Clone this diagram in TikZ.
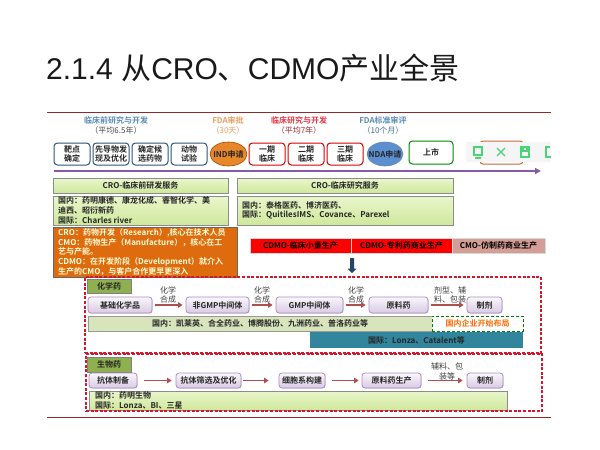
\documentclass[tikz,border=0pt]{standalone}
\usepackage{fontspec}
\setmainfont{Liberation Sans}
\newfontfamily\cjk{Noto Sans CJK SC}
\newfontfamily\cjkb{Noto Sans CJK SC Bold}
\usetikzlibrary{arrows.meta,shapes.geometric,shapes.arrows,shadows}
\definecolor{darkred}{HTML}{8E2A2E}
\definecolor{hblue}{HTML}{5B8DB5}
\definecolor{horange}{HTML}{E9A060}
\definecolor{hred}{HTML}{E33A48}
\definecolor{htxt}{HTML}{4A4A4A}
\definecolor{navy}{HTML}{2F5482}
\definecolor{arrowred}{HTML}{B0504C}
\definecolor{dashred}{HTML}{D5152B}
\definecolor{pur}{HTML}{8A5AA8}
\definecolor{limetop}{HTML}{EAF6CC}
\definecolor{limebot}{HTML}{CFE89C}
\definecolor{tealbar}{HTML}{31859C}
\definecolor{tagfill}{HTML}{8FB04F}
\definecolor{palegreen}{HTML}{D7E4BC}
\definecolor{orangefill}{HTML}{DE6C0E}
\definecolor{indfill}{HTML}{E8862A}
\definecolor{ndafill}{HTML}{5B8FD0}
\definecolor{pinkbar}{HTML}{D49E96}
\newcommand{\bx}[7]{%
  \pgfmathsetmacro{\cxx}{(#3+#5)/2}\pgfmathsetmacro{\cyy}{(#4+#6)/2}%
  \pgfmathsetmacro{\wdd}{#5-#3}\pgfmathsetmacro{\htt}{#6-#4}%
  \node[#2,minimum width=\wdd pt,minimum height=\htt pt,inner sep=0pt] (#1) at (\cxx,\cyy) {#7};}
\tikzset{
  lab/.style={font=\cjkb\fontsize{8}{9.7}\selectfont,text=black!85,align=center},
  stage/.style={lab,draw=navy,line width=1pt,rounded corners=3.5pt,fill=white},
  stagered/.style={lab,draw=red!85!black,line width=1pt,rounded corners=3.5pt,fill=white},
  stagegreen/.style={lab,draw=green!55!black,line width=1pt,rounded corners=3.5pt,fill=white},
  ovalbox/.style={lab,ellipse,line width=.6pt},
  greenbox/.style={lab,draw=black!45,line width=1pt,top color=limetop,bottom color=limebot},
  orangebox/.style={draw=black!60,line width=.8pt,fill=orangefill},
  barbox/.style={lab,text=black,draw=black!15,line width=.4pt},
  proc/.style={lab,draw=pur!70,line width=.8pt,rounded corners=3pt,top color=pur!5,bottom color=pur!32,drop shadow={shadow xshift=.6pt,shadow yshift=-.6pt,fill=black!35,opacity=.5}},
  reddash/.style={draw=dashred,line width=1.1pt,dash pattern=on 3pt off 1.6pt},
  tag/.style={lab,draw=black!50,line width=.6pt,fill=tagfill},
  link/.style={draw=arrowred,line width=1.2pt,-{Triangle[length=4.5pt,width=5.5pt]},shorten >=3pt,shorten <=2.5pt},
  hd/.style={font=\cjkb\fontsize{8}{9.7}\selectfont,align=center},
  hdsub/.style={font=\cjk\fontsize{8}{9.7}\selectfont,align=center,text=htxt},
  small/.style={font=\cjk\fontsize{8}{9.2}\selectfont,align=center,text=black!75},
  icon/.style={draw=green!50!teal!70,line width=1.1pt},
}
\begin{document}
\begin{tikzpicture}[x=1pt,y=-1pt]
\useasboundingbox (0,0) rectangle (600,450);
\fill[white] (0,0) rectangle (600,450);
% title
\node[anchor=base west,inner sep=0pt,font=\fontsize{30}{34}\selectfont,text=black!90] (title) at (46,79) {2.1.4 {\cjk 从}CRO{\cjk 、}CDMO{\cjk 产业全景}};
% rules
\coordinate (tl) at (47,112.5); \coordinate (tr) at (551,112.5);
\coordinate (bl) at (47,417); \coordinate (br) at (551,417);
\draw[darkred,line width=1pt] (tl) -- (tr);
\draw[darkred,line width=1pt] (bl) -- (br);
% header labels
\node[hd,text=hblue] (h1) at (116,120) {临床前研究与开发};
\node[hdsub] (h1s) at (116,130) {（平均6.5年）};
\node[hd,text=horange] (h2) at (228,120) {FDA审批};
\node[hdsub,text=horange] (h2s) at (228,130) {（30天）};
\node[hd,text=hred] (h3) at (299,120) {临床研究与开发};
\node[hdsub,text=hred!70!black] (h3s) at (299,130) {（平均7年）};
\node[hd,text=hblue] (h4) at (383,120) {FDA标准审评};
\node[hdsub,text=hblue!80!black] (h4s) at (383,130) {（10个月）};
% stages
\bx{s1}{stage}{54}{143}{90}{165}{靶点\\确定}
\bx{s2}{stage}{93}{143}{129}{165}{先导物发\\现及优化}
\bx{s3}{stage}{132}{143}{168}{165}{确定候\\选药物}
\bx{s4}{stage}{171}{143}{207}{165}{动物\\试验}
\bx{ind}{ovalbox,fill=indfill,draw=orange!60!black}{210}{142}{247}{166}{}
\node[lab,inner sep=0pt] (indt) at (ind) {IND申请};
\bx{s5}{stagered}{249}{143}{285}{165}{一期\\临床}
\bx{s6}{stagered}{288}{143}{324}{165}{二期\\临床}
\bx{s7}{stagered}{327}{143}{363}{165}{三期\\临床}
\bx{nda}{ovalbox,fill=ndafill,draw=navy!70}{367}{142}{403}{166}{}
\node[lab,inner sep=0pt] (ndat) at (nda) {NDA申请};
\bx{s8}{stagegreen}{409}{141}{453}{164}{上市}
% toolbar
\draw[draw=brown!80!red,line width=1pt,rounded corners=3pt] (480,141) rectangle (523,164);
\fill[black!4] (466,142) rectangle (551,162);
\draw[icon] (474,147) rectangle (482,155) (475,158) -- (481,158);
\draw[icon] (497,148) -- (505,156) (505,148) -- (497,156);
\draw[icon] (521,147) rectangle (529,157) (523,147) -- (523,151) -- (527,151) -- (527,147);
\draw[icon] (550,147) -- (546,147) -- (546,157) -- (551,157);
% timeline
\coordinate (tlA) at (54,171); \coordinate (tlB) at (541,171);
\draw[pur,line width=1.5pt,-{Triangle[length=6pt,width=6pt]}] (tlA) -- (tlB);
% CRO panels
\bx{c1}{greenbox}{53}{178}{228}{193}{CRO-临床前研发服务}
\bx{c2}{greenbox}{237}{178}{453}{193}{CRO-临床研究服务}
\bx{d1}{greenbox}{53}{196}{228}{225}{}
\node[lab,anchor=west,align=left,inner sep=0pt] (d1t) at (58,210.5) {国内：药明康德、康龙化成、睿智化学、美\\迪西、昭衍新药\\国际：Charles river};
\bx{d2}{greenbox}{237}{196}{453}{225}{}
\node[lab,anchor=west,align=left,inner sep=0pt] (d2t) at (242,210.5) {国内：泰格医药、博济医药、\\国际：QuitilesIMS、Covance、Parexel};
% orange
\bx{o1}{orangebox}{53}{227}{237}{277}{}
\node[lab,anchor=west,align=left,text=yellow!15,inner sep=0pt] (o1t) at (58,252) {CRO：药物开发（Research）,核心在技术人员\\CMO：药物生产（Manufacture），核心在工\\艺与产能。\\CDMO：在开发阶段（Development）就介入\\生产的CMO，与客户合作更早更深入};
% CDMO bars
\bx{b1}{barbox,fill=red}{250}{238}{351}{253}{CDMO-临床小量生产}
\bx{b2}{barbox,fill=red}{351}{238}{452}{253}{CDMO-专利药商业生产}
\bx{b3}{barbox,fill=pinkbar}{452}{238}{545}{253}{CMO-仿制药商业生产}
\node[single arrow,draw=none,fill=navy!80!black,rotate=-90,minimum height=15pt,minimum width=9pt,single arrow head extend=1.5pt,inner sep=1pt,single arrow tip angle=90] (down) at (352,264.5) {};
% chem group
\bx{tag1}{tag}{87}{279}{131}{293}{化学药}
\bx{p1}{proc}{88}{297}{152}{313}{基础化学品}
\bx{p2}{proc}{186}{297}{249}{313}{非GMP中间体}
\bx{p3}{proc}{276}{297}{343}{313}{GMP中间体}
\bx{p4}{proc}{369}{297}{428}{313}{原料药}
\bx{p5}{proc}{467}{297}{502}{313}{制剂}
\draw[link] (p1) -- (p2);
\draw[link] (p2) -- (p3);
\draw[link] (p3) -- (p4);
\draw[link] (p4) -- (p5);
\node[small] (a1) at (168,295) {化学\\合成};
\node[small] (a2) at (262,295) {化学\\合成};
\node[small] (a3) at (356,295) {化学\\合成};
\node[small] (a4) at (450,295) {剂型、辅\\料、包装};
\bx{r1}{lab,draw=black!40,line width=.8pt,fill=palegreen}{88}{316}{432}{331}{国内：凯莱英、合全药业、博腾股份、九洲药业、普洛药业等}
\bx{r2}{lab,draw=green!50!black,line width=.9pt,densely dashed,fill=white,text=orange!85!red}{432}{316}{523}{331}{国内企业开始布局}
\bx{r3}{lab,fill=tealbar}{310}{332}{523}{348}{国际：Lonza、Catalent等}
% bio group
\bx{tag2}{tag}{87}{357}{131}{372}{生物药}
\bx{q1}{proc}{89}{373}{137}{388}{抗体制备}
\bx{q2}{proc}{176}{373}{241}{388}{抗体筛选及优化}
\bx{q3}{proc}{279}{373}{325}{388}{细胞系构建}
\bx{q4}{proc}{362}{373}{421}{388}{原料药生产}
\bx{q5}{proc}{467}{373}{503}{388}{制剂}
\draw[link,shorten <=7pt,shorten >=4pt] (q1) -- (q2);
\draw[link,shorten <=2pt,shorten >=10pt] (q2) -- (q3);
\draw[link,shorten <=7pt,shorten >=3pt] (q3) -- (q4);
\draw[link,shorten <=7pt,shorten >=4pt] (q4) -- (q5);
\node[small] (a5) at (447,371.5) {辅料、包\\装等};
\bx{g1}{greenbox}{89}{391}{507}{410}{}
\node[lab,anchor=west,align=left,inner sep=0pt] (g1t) at (95,400.5) {国内：药明生物\\国际：Lonza、BI、三星};
% dashed frames
\bx{chem}{reddash}{85}{277}{541}{353}{}
\bx{bio}{reddash}{86}{354}{542}{411}{}
\end{tikzpicture}
\end{document}
